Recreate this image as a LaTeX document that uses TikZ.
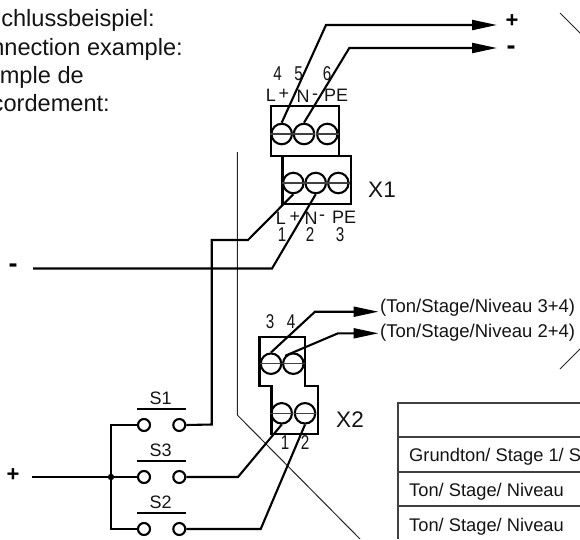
\documentclass[tikz,border=0pt]{standalone}
\usepackage{fontspec}
\setmainfont{Liberation Sans}
\usetikzlibrary{arrows.meta}
\definecolor{ink}{HTML}{141414}
\newcommand{\fs}[1]{\fontsize{#1}{#1}\selectfont}
\tikzset{
 wire/.style={line width=2.1pt,draw=black,line join=miter},
 box/.style={line width=2.4pt,draw=black,line join=miter},
 thinline/.style={line width=1pt,draw=black!85},
 screw/.style={circle,draw=black,line width=2.1pt,minimum size=20.5pt,inner sep=0pt},
 contact/.style={circle,draw=black,fill=white,line width=2.1pt,minimum size=12pt,inner sep=0pt},
 slot/.style={line width=1.2pt,draw=black!75},
 arrowwire/.style={wire,-{Triangle[length=25pt,width=10pt]}},
 small/.style={inner sep=0pt,font=\fs{18},text=ink},
 digit/.style={inner sep=0pt,font=\fs{20},text=ink,xscale=.76},
 big/.style={inner sep=0pt,font=\fs{22.5},text=ink},
 sign/.style={inner sep=0pt,font=\fs{22}\bfseries,text=black},
 dashsign/.style={inner sep=0pt,font=\fs{27}\bfseries,text=black},
 head/.style={inner sep=0pt,font=\fs{23.6},text=ink,anchor=base east},
 cell/.style={inner sep=0pt,font=\fs{18.3},text=ink,anchor=base west},
 tableline/.style={line width=2.2pt,draw=black!75},
 bar/.style={line width=2.2pt,draw=black}
}
\begin{document}
\begin{tikzpicture}[x=1pt,y=-1pt]
\useasboundingbox (0,0) rectangle (580,539);
\clip (0,0) rectangle (580,539);
% heading
\node[head] (h1) at (155,26) {chlussbeispiel:};
\node[head] (h2) at (183,55) {nnection example:};
\node[head] (h3) at (84,83) {mple de};
\node[head] (h4) at (110,111.5) {cordement:};
% thin cut lines
\draw[thinline] (237.3,152) -- (237.3,415) -- (360,539);
\draw[thinline] (560,13) -- (580,33);
\draw[thinline] (580,349) -- (560,369);
% X1 blocks
\draw[box] (270.7,106) rectangle (338.7,155.7);
\draw[box] (282.3,156) rectangle (351,204);
\foreach \n/\x in {a/281.7,b/304,c/327.3}{
 \node[screw] (u\n) at (\x,134) {};
 \draw[slot] (u\n.west) -- (u\n.east);
}
\foreach \n/\x in {a/293.3,b/315.7,c/338.3}{
 \node[screw] (l\n) at (\x,183) {};
 \draw[slot] (l\n.west) -- (l\n.east);
}
% X2 block
\draw[box] (259.3,336.7) -- (304.7,336.7) -- (304.7,386) -- (318,386) -- (318,434) -- (271.3,434) -- (271.3,386) -- (259.3,386) -- cycle;
\node[screw] (xa) at (271,363.7) {}; \draw[slot] (xa.west) -- (xa.east);
\node[screw] (xb) at (293.3,363.7) {}; \draw[slot] (xb.west) -- (xb.east);
\node[screw] (xc) at (281.7,413.3) {}; \draw[slot] (xc.west) -- (xc.east);
\node[screw] (xd) at (305,413.3) {}; \draw[slot] (xd.west) -- (xd.east);
% free ends
\coordinate (pos) at (497,25);
\coordinate (neg) at (497,48);
\coordinate (t34) at (378.5,311.7);
\coordinate (t24) at (378.5,333.3);
\coordinate (minus) at (33,268.5);
\coordinate (plus) at (32,477);
% output wires
\draw[arrowwire] (ua.north) -- (326,25) -- (pos);
\draw[arrowwire] (ub.north) -- (349.3,48) -- (neg);
\draw[arrowwire] (xa.north) -- (315,311.7) -- (t34);
\draw[arrowwire] (xb.north west) -- (338,333.3) -- (t24);
% switches
\foreach \n/\y in {1/425,3/477,2/529}{
 \node[contact] (sl\n) at (144,\y) {};
 \node[contact] (sr\n) at (179.3,\y) {};
 \draw[bar] (137,\y-15.7) -- (186,\y-15.7);
 \node[small] (st\n) at (160.7,\y-27) {S\n};
}
% bus
\draw[wire] (sl1.west) -- (111,425) -- (111,529) -- (sl2.west);
\draw[wire] (plus) -- (sl3.west);
\fill (111,477) coordinate (dot) circle (3.2pt);
% wires to switches and terminals
\draw[wire] (la.south) -- (248,240) -- (211.7,240) -- (211.7,424.5) -- (sr1.east);
\draw[wire] (lb.south) -- (272,268.5) -- (minus);
\draw[wire] (xc.south) -- (238,477) -- (sr3.east);
\draw[wire] (xd.south) -- (260.7,529) -- (sr2.east);
% labels
\node[sign] (lplus) at (512,21) {+};
\node[dashsign] (lminus) at (511,50) {-};
\node[dashsign] (mminus) at (13,268) {-};
\node[sign] (mplus) at (13,475) {+};
\node[digit] at (277.7,74) {4};
\node[digit] at (298.7,74) {5};
\node[digit] at (327,74) {6};
\node[small] at (271,95) {L};
\node[small] at (284,94) {+};
\node[small] at (303,96) {N};
\node[small] at (315,97) {-};
\node[small] at (336,95) {PE};
\node[small] at (281,218) {L};
\node[small] at (295,217) {+};
\node[small] at (311,218) {N};
\node[small] at (322,218) {-};
\node[small] at (344,217) {PE};
\node[digit] at (282,235) {1};
\node[digit] at (310,235) {2};
\node[digit] at (340,235) {3};
\node[digit] at (270,322) {3};
\node[digit] at (291,322) {4};
\node[digit] at (285,443) {1};
\node[digit] at (305,443) {2};
\node[big] at (382,190) {X1};
\node[big] at (350,420) {X2};
\node[small,font=\fs{18.5},anchor=west] at (380,308) {(Ton/Stage/Niveau 3+4)};
\node[small,font=\fs{18.5},anchor=west] at (380,333) {(Ton/Stage/Niveau 2+4)};
% table
\draw[tableline] (398,539) -- (398,403.3) -- (580,403.3);
\draw[tableline] (398,436.7) -- (580,436.7);
\draw[tableline] (398,471.7) -- (580,471.7);
\draw[tableline] (398,506) -- (580,506);
\node[cell] at (409,461) {Grundton/ Stage 1/ S};
\node[cell] at (409,496) {Ton/ Stage/ Niveau};
\node[cell] at (409,531) {Ton/ Stage/ Niveau};
\end{tikzpicture}
\end{document}
